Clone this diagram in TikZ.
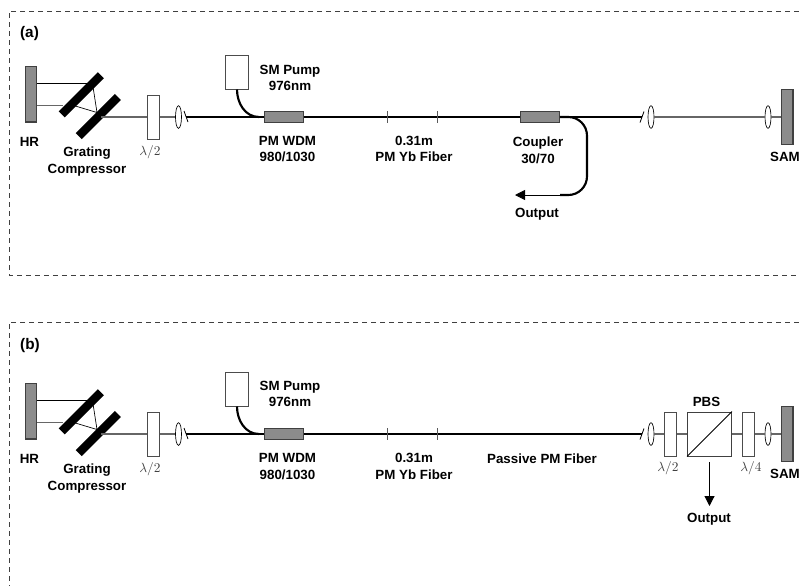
\documentclass[tikz,border=0pt]{standalone}
\usepackage{fontspec}
\setmainfont{Liberation Sans}
\usepackage{amsmath}
\usetikzlibrary{arrows.meta,shapes.geometric}

\tikzset{
  labeltext/.style={font=\fontsize{10}{12.5}\selectfont\bfseries, align=center, inner sep=0pt, yshift=-0.75pt},
  paneltext/.style={font=\fontsize{11.5}{14}\selectfont\bfseries, inner sep=0pt},
  wavetext/.style={font=\fontsize{10}{12}\selectfont, text=black!75, inner sep=0pt},
  frameline/.style={line width=0.7pt, black!75, dash pattern=on 4pt off 2.75pt},
  mirror/.style={draw=black!75, fill=black!45, line width=0.8pt, inner sep=0pt, minimum width=8.5pt, minimum height=41.5pt},
  grating/.style={fill=black, inner sep=0pt, rotate=-45, minimum width=6.4pt, minimum height=41.5pt},
  waveplate/.style={draw=black!70, fill=white, line width=0.7pt, inner sep=0pt, minimum width=8.5pt, minimum height=33pt},
  lensel/.style={draw=black, fill=white, line width=0.5pt, ellipse, inner sep=0pt, minimum width=4.5pt, minimum height=17pt},
  splitter/.style={draw=black!75, fill=black!45, line width=0.8pt, inner sep=0pt, minimum width=29pt, minimum height=8pt},
  pumpbox/.style={draw=black!70, fill=white, line width=0.7pt, inner sep=0pt, minimum width=17pt, minimum height=25.5pt},
  cubebox/.style={draw=black!75, fill=white, line width=0.7pt, inner sep=0pt, minimum width=33pt, minimum height=33pt},
  beam/.style={line width=1pt, black!60},
  thinbeam/.style={line width=0.5pt, black},
  fiber/.style={line width=1.6pt, black},
  tickmark/.style={line width=0.7pt, black!65},
  cutmark/.style={line width=0.6pt, black},
  outbeam/.style={line width=0.6pt, black, -{Triangle[length=7.5pt,width=7.5pt]}}
}

\begin{document}
\begin{tikzpicture}[x=0.75pt, y=-0.75pt]
  \useasboundingbox (0,0) rectangle (799,586);

  % Panel (a) frame, open on the right
  \draw[frameline] (799,11) -- (9,11) -- (9,275) -- (799,275);
  \node[paneltext] (a-tag) at (29.5,34) {(a)};

  % Compressor end
  \node[mirror] (a-hr) at (31.2,94.3) {};
  \coordinate (a-hit1) at (37,83.5);
  \coordinate (a-hit2) at (37,105.5);
  \coordinate (a-on1) at (92.5,83.5);
  \coordinate (a-on2) at (63,105.5);
  \coordinate (a-in1) at (97,112.5);
  \coordinate (a-in2) at (72,105);
  \coordinate (a-exit) at (101,117);
  \draw[thinbeam] (a-hit1) -- (a-on1) -- (a-in1) -- (a-in2);
  \draw[beam] (a-hit2) -- (a-on2);
  \node[grating] (a-gr1) at (81.3,94.8) {};
  \node[grating] (a-gr2) at (98.3,116.5) {};
  \node[waveplate] (a-hwp) at (153.5,117) {};
  \node[lensel] (a-lens1) at (178.5,117) {};
  \draw[beam] (a-exit) -- (a-hwp);
  \draw[beam] (a-hwp) -- (a-lens1);

  % Fiber section
  \node[pumpbox] (a-pump) at (237,72) {};
  \node[splitter] (a-wdm) at (284,117) {};
  \node[splitter] (a-coupler) at (540,117) {};
  \coordinate (a-cut1) at (186,117);
  \coordinate (a-cut2) at (642,117);
  \coordinate (a-join) at (259,117);
  \coordinate (a-yb1) at (387,117);
  \coordinate (a-yb2) at (437,117);
  \draw[fiber] (a-cut1) -- (a-wdm);
  \draw[fiber] (a-wdm) -- (a-coupler);
  \draw[fiber] (a-coupler) -- (a-cut2);
  \draw[fiber] (a-pump.south) to[out=-90, in=180] (a-join);
  \draw[cutmark] (a-cut1) ++(-2,-6) -- ++(4,11);
  \draw[cutmark] (a-cut2) ++(2,-5.5) -- ++(-4,11);
  \draw[tickmark] (a-yb1) ++(0,-6) -- ++(0,12);
  \draw[tickmark] (a-yb2) ++(0,-6) -- ++(0,12);

  % Output branch of the coupler
  \coordinate (a-bend1) at (587,117);
  \coordinate (a-bend2) at (587,195);
  \coordinate (a-outstart) at (560,195);
  \coordinate (a-outtip) at (515,195);
  \draw[fiber, rounded corners=14pt] (a-coupler.east) -- (a-bend1) -- (a-bend2) -- (a-outstart);
  \draw[outbeam] (a-outstart) -- (a-outtip);

  % SAM end
  \node[lensel] (a-lens2) at (651,117) {};
  \node[lensel] (a-lens3) at (768,117) {};
  \node[mirror] (a-sam) at (787.3,117) {};
  \draw[beam] (a-lens2) -- (a-lens3);
  \draw[beam] (a-lens3) -- (a-sam);

  % Panel (a) labels
  \node[labeltext] (a-hrtext) at (29.5,141) {HR};
  \node[labeltext] (a-grtext) at (87,160.5) {Grating\\Compressor};
  \node[wavetext] (a-hwptext) at (150,152) {$\lambda/2$};
  \node[labeltext] (a-pumptext) at (290,77) {SM Pump\\976nm};
  \node[labeltext] (a-wdmtext) at (287.5,148) {PM WDM\\980/1030};
  \node[labeltext] (a-ybtext) at (414,148) {0.31m\\PM Yb Fiber};
  \node[labeltext] (a-cptext) at (538,149) {Coupler\\30/70};
  \node[labeltext] (a-outtext) at (537,213) {Output};
  \node[labeltext] (a-samtext) at (785,156) {SAM};

  % Panel (b) frame, open on the right and below
  \draw[frameline] (799,322) -- (9,322) -- (9,586);
  \node[paneltext] (b-tag) at (30,346) {(b)};

  % Compressor end
  \node[mirror] (b-hr) at (31.2,411.3) {};
  \coordinate (b-hit1) at (37,400.5);
  \coordinate (b-hit2) at (37,422.5);
  \coordinate (b-on1) at (92.5,400.5);
  \coordinate (b-on2) at (63,422.5);
  \coordinate (b-in1) at (97,429.5);
  \coordinate (b-in2) at (72,422);
  \coordinate (b-exit) at (101,434);
  \draw[thinbeam] (b-hit1) -- (b-on1) -- (b-in1) -- (b-in2);
  \draw[beam] (b-hit2) -- (b-on2);
  \node[grating] (b-gr1) at (81.3,411.8) {};
  \node[grating] (b-gr2) at (98.3,433.5) {};
  \node[waveplate] (b-hwp1) at (153.5,434) {};
  \node[lensel] (b-lens1) at (178.5,434) {};
  \draw[beam] (b-exit) -- (b-hwp1);
  \draw[beam] (b-hwp1) -- (b-lens1);

  % Fiber section
  \node[pumpbox] (b-pump) at (237,389) {};
  \node[splitter] (b-wdm) at (284,434) {};
  \coordinate (b-cut1) at (186,434);
  \coordinate (b-cut2) at (642,434);
  \coordinate (b-join) at (259,434);
  \coordinate (b-yb1) at (387,434);
  \coordinate (b-yb2) at (437,434);
  \draw[fiber] (b-cut1) -- (b-wdm);
  \draw[fiber] (b-wdm) -- (b-cut2);
  \draw[fiber] (b-pump.south) to[out=-90, in=180] (b-join);
  \draw[cutmark] (b-cut1) ++(-2,-6) -- ++(4,11);
  \draw[cutmark] (b-cut2) ++(2,-5.5) -- ++(-4,11);
  \draw[tickmark] (b-yb1) ++(0,-6) -- ++(0,12);
  \draw[tickmark] (b-yb2) ++(0,-6) -- ++(0,12);

  % Free space part with the cube
  \node[lensel] (b-lens2) at (651,434) {};
  \node[waveplate] (b-hwp2) at (670.5,434) {};
  \node[cubebox] (b-pbs) at (709.5,434) {};
  \node[waveplate] (b-qwp) at (748.5,434) {};
  \node[lensel] (b-lens3) at (768,434) {};
  \node[mirror] (b-sam) at (787.3,434) {};
  \draw[beam] (b-lens2) -- (b-hwp2);
  \draw[beam] (b-hwp2) -- (b-pbs);
  \draw[beam] (b-pbs) -- (b-qwp);
  \draw[beam] (b-qwp) -- (b-lens3);
  \draw[beam] (b-lens3) -- (b-sam);
  \draw[thinbeam, line width=0.7pt] (b-pbs.south west) -- (b-pbs.north east);
  \coordinate (b-outstart) at (709.5,462);
  \coordinate (b-outtip) at (709.5,506);
  \draw[outbeam, line width=0.8pt] (b-outstart) -- (b-outtip);

  % Panel (b) labels
  \node[labeltext] (b-hrtext) at (29.5,458) {HR};
  \node[labeltext] (b-grtext) at (87,477.5) {Grating\\Compressor};
  \node[wavetext] (b-hwp1text) at (150,469) {$\lambda/2$};
  \node[labeltext] (b-pumptext) at (290,393) {SM Pump\\976nm};
  \node[labeltext] (b-wdmtext) at (287.5,465.5) {PM WDM\\980/1030};
  \node[labeltext] (b-ybtext) at (414,465.5) {0.31m\\PM Yb Fiber};
  \node[labeltext] (b-pasv) at (542,458) {Passive PM Fiber};
  \node[labeltext] (b-pbstext) at (706.5,401) {PBS};
  \node[wavetext] (b-hwp2text) at (668,468) {$\lambda/2$};
  \node[wavetext] (b-qwptext) at (751,468) {$\lambda/4$};
  \node[labeltext] (b-outtext) at (709,518) {Output};
  \node[labeltext] (b-samtext) at (785,473) {SAM};
\end{tikzpicture}
\end{document}
